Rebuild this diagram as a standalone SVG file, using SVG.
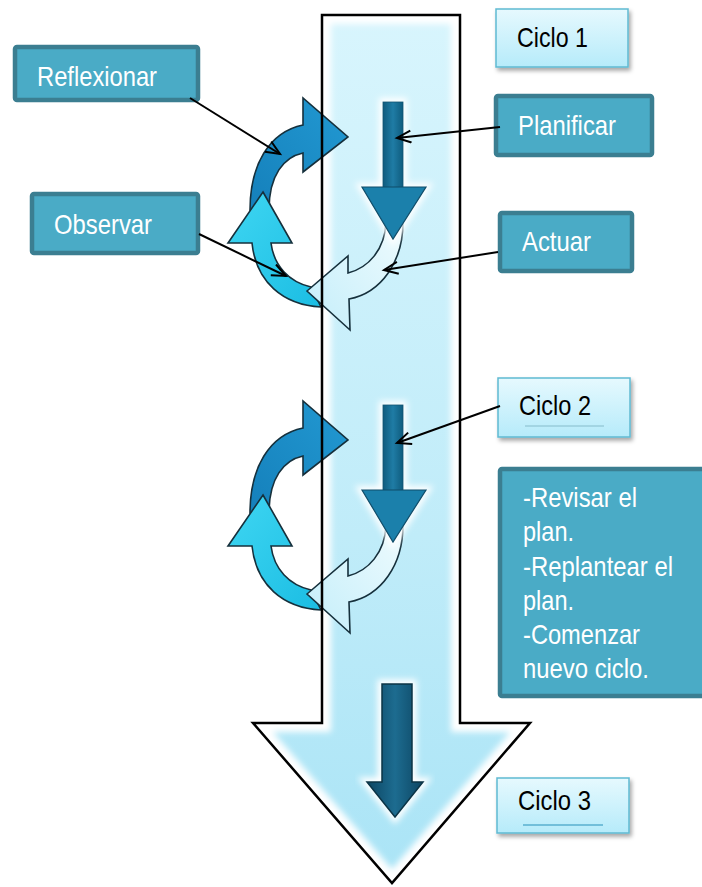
<svg xmlns="http://www.w3.org/2000/svg" width="702" height="887" viewBox="0 0 702 887">
  <style>
    .lbl { font-family: "Liberation Sans", Arial, sans-serif; font-size: 28px; }
    .dark-box rect { fill: #4aabc6; stroke: #3b7e91; stroke-width: 4.5; }
    .dark-box text { fill: #ffffff; }
    .light-box rect { fill: url(#lightBox); stroke: #5fbad2; stroke-width: 1.5; filter: url(#shadow); }
    .light-box text { fill: #000000; }
    .conn { stroke: #000000; stroke-width: 2; fill: none; marker-end: url(#openHead); }
    .cyc { stroke: #16303c; stroke-width: 1.6; stroke-linejoin: miter; }
  </style>
  <defs>
    <linearGradient id="bigFill" x1="0" y1="0" x2="0" y2="1">
      <stop offset="0" stop-color="#d8f5fd"/>
      <stop offset="0.6" stop-color="#c0ecf9"/>
      <stop offset="1" stop-color="#aae4f6"/>
    </linearGradient>
    <linearGradient id="lightBox" x1="0" y1="0" x2="0" y2="1">
      <stop offset="0" stop-color="#e6f9fe"/>
      <stop offset="1" stop-color="#b6ebfa"/>
    </linearGradient>
    <linearGradient id="darkArc" x1="0" y1="1" x2="1" y2="0">
      <stop offset="0" stop-color="#1580bb"/>
      <stop offset="1" stop-color="#2299d2"/>
    </linearGradient>
    <linearGradient id="cyanArc" x1="0" y1="0" x2="1" y2="1">
      <stop offset="0" stop-color="#3fd6f2"/>
      <stop offset="1" stop-color="#1bbde3"/>
    </linearGradient>
    <linearGradient id="paleArc" x1="1" y1="0" x2="0" y2="1">
      <stop offset="0" stop-color="#eefbfe"/>
      <stop offset="1" stop-color="#c4eefa"/>
    </linearGradient>
    <linearGradient id="shaftFill" x1="0" y1="0" x2="1" y2="0">
      <stop offset="0" stop-color="#0f5c7e"/>
      <stop offset="0.5" stop-color="#1f7ca5"/>
      <stop offset="1" stop-color="#0f5c7e"/>
    </linearGradient>
    <linearGradient id="deepFill" x1="0" y1="0" x2="1" y2="0">
      <stop offset="0" stop-color="#0c4562"/>
      <stop offset="0.5" stop-color="#1d6c90"/>
      <stop offset="1" stop-color="#0c4562"/>
    </linearGradient>
    <filter id="shadow" x="-10%" y="-10%" width="125%" height="140%">
      <feDropShadow dx="2" dy="3" stdDeviation="2" flood-color="#000" flood-opacity="0.35"/>
    </filter>
    <filter id="soft" x="-20%" y="-20%" width="140%" height="140%">
      <feGaussianBlur stdDeviation="3"/>
    </filter>
    <clipPath id="bigClip">
      <path d="M322,15 L460,15 L460,723 L530,723 L392,883 L253,723 L322,723 Z"/>
    </clipPath>
    <marker id="openHead" markerUnits="userSpaceOnUse" markerWidth="18" markerHeight="16" refX="15" refY="7" orient="auto">
      <path d="M1,1 L15,7 L1,13" fill="none" stroke="#000" stroke-width="2"/>
    </marker>
    <!-- one turn of the cycle: three curved arrows plus the inner downward arrow -->
    <g id="cycleShape">
      <path class="cyc" fill="url(#darkArc)" d="M250,210 C250,165 269,132 303,125 L303,98 L348,137 L303,172 L303,153 C284,157 269,175 269,210 Z"/>
      <path class="cyc" fill="url(#cyanArc)" d="M263,192 L292,243 L271,243 C274,266 289,282 311,287 L321,307 C283,305 256,282 252,243 L228,243 Z"/>
      <path class="cyc" fill="url(#paleArc)" d="M307,291 L348,256 L348,273 C368,268 385,250 386,222 L403,222 C403,262 381,293 349,299 L350,330 Z"/>
      <g>
        <path d="M383,102 L403,102 L403,187 L426,187 L393,239 L362,187 L383,187 Z" fill="none" stroke="#ffffff" stroke-width="8" filter="url(#soft)"/>
        <rect x="383" y="102" width="20" height="87" fill="url(#shaftFill)" stroke="#125472" stroke-width="0.8"/>
        <path d="M362,187 L426,187 L393,239 Z" fill="#1b80ab" stroke="#0f4d6a" stroke-width="1.2"/>
      </g>
    </g>
  </defs>

  <!-- large downward arrow -->
  <g id="mainArrow">
    <path d="M322,15 L460,15 L460,723 L530,723 L392,883 L253,723 L322,723 Z" fill="url(#bigFill)"/>
    <path d="M322,15 L460,15 L460,723 L530,723 L392,883 L253,723 L322,723 Z" fill="none" stroke="#ffffff" stroke-width="18" clip-path="url(#bigClip)" filter="url(#soft)"/>
  </g>

  <g id="cycle1">
    <use href="#cycleShape"/>
  </g>
  <g id="cycle2">
    <use href="#cycleShape" transform="translate(0,303)"/>
  </g>

  <g id="cycle3Arrow">
    <path d="M382,684 L412,684 L412,782 L423,782 L395,817 L367,782 L382,782 Z" fill="none" stroke="#ffffff" stroke-width="9" filter="url(#soft)"/>
    <path d="M382,684 L412,684 L412,782 L423,782 L395,817 L367,782 L382,782 Z" fill="url(#deepFill)" stroke="#0b3446" stroke-width="1.5"/>
  </g>

  <!-- outline of the large arrow, drawn over the cycles -->
  <path id="mainArrowOutline" d="M322,15 L460,15 L460,723 L530,723 L392,883 L253,723 L322,723 Z" fill="none" stroke="#000000" stroke-width="2.5" stroke-linejoin="miter"/>

  <g id="reflexionar" class="dark-box">
    <rect x="15" y="47" width="183" height="53" rx="2"/>
    <text class="lbl" x="37" y="86" textLength="120" lengthAdjust="spacingAndGlyphs">Reflexionar</text>
  </g>
  <g id="observar" class="dark-box">
    <rect x="32" y="194" width="166" height="59" rx="2"/>
    <text class="lbl" x="54" y="234" textLength="98" lengthAdjust="spacingAndGlyphs">Observar</text>
  </g>
  <g id="planificar" class="dark-box">
    <rect x="496" y="96" width="156" height="59" rx="2"/>
    <text class="lbl" x="518" y="135" textLength="98" lengthAdjust="spacingAndGlyphs">Planificar</text>
  </g>
  <g id="actuar" class="dark-box">
    <rect x="500" y="213" width="132" height="58" rx="2"/>
    <text class="lbl" x="522" y="251" textLength="69" lengthAdjust="spacingAndGlyphs">Actuar</text>
  </g>
  <g id="nota" class="dark-box">
    <rect x="500" y="469" width="210" height="227" rx="2"/>
    <text class="lbl" x="523" y="507" textLength="114" lengthAdjust="spacingAndGlyphs">-Revisar el</text>
    <text class="lbl" x="523" y="541" textLength="51" lengthAdjust="spacingAndGlyphs">plan.</text>
    <text class="lbl" x="523" y="576" textLength="150" lengthAdjust="spacingAndGlyphs">-Replantear el</text>
    <text class="lbl" x="523" y="610" textLength="51" lengthAdjust="spacingAndGlyphs">plan.</text>
    <text class="lbl" x="523" y="644" textLength="117" lengthAdjust="spacingAndGlyphs">-Comenzar</text>
    <text class="lbl" x="523" y="678" textLength="126" lengthAdjust="spacingAndGlyphs">nuevo ciclo.</text>
  </g>

  <g id="ciclo1" class="light-box">
    <rect x="496" y="9" width="132" height="58"/>
    <text class="lbl" x="517" y="47" textLength="71" lengthAdjust="spacingAndGlyphs">Ciclo 1</text>
  </g>
  <g id="ciclo2" class="light-box">
    <rect x="498" y="378" width="132" height="59"/>
    <text class="lbl" x="519" y="415" textLength="72" lengthAdjust="spacingAndGlyphs">Ciclo 2</text>
    <line x1="525" y1="426" x2="604" y2="426" stroke="#86bccb" stroke-width="1"/>
  </g>
  <g id="ciclo3" class="light-box">
    <rect x="497" y="778" width="132" height="55"/>
    <text class="lbl" x="518" y="810" textLength="73" lengthAdjust="spacingAndGlyphs">Ciclo 3</text>
    <line x1="523" y1="825" x2="603" y2="825" stroke="#5aafcf" stroke-width="1.5"/>
  </g>

  <g id="connectors">
    <line class="conn" x1="190" y1="98" x2="280" y2="154"/>
    <line class="conn" x1="199" y1="234" x2="286" y2="276"/>
    <line class="conn" x1="500" y1="127" x2="397" y2="138"/>
    <line class="conn" x1="498" y1="252" x2="384" y2="270"/>
    <line class="conn" x1="500" y1="406" x2="397" y2="443"/>
  </g>
</svg>
